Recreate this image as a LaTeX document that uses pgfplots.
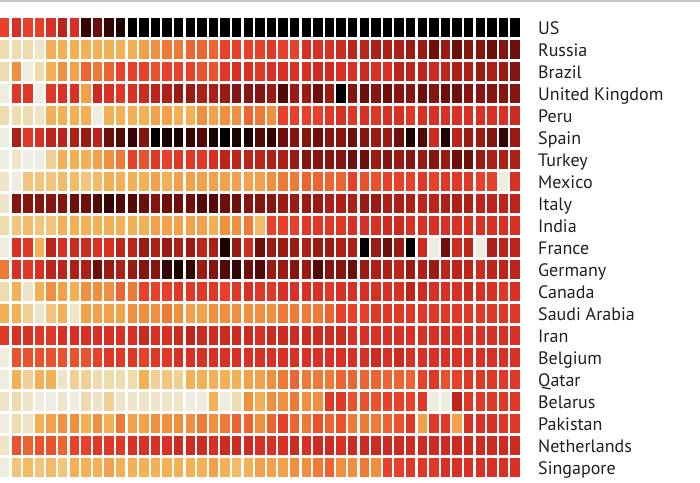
\documentclass[border=0pt]{standalone}
\usepackage{pgfplots}
\pgfplotsset{compat=1.18}
\usepackage{fontspec}
\setmainfont{PT Sans}
\pgfdeclareplotmark{cell}{%
  \pgfsetcornersarced{\pgfpoint{2pt}{2pt}}%
  \pgfpathrectanglecorners{\pgfpoint{-4.65pt}{-9.5pt}}{\pgfpoint{4.65pt}{9.5pt}}%
  \pgfusepathqfill}
\pgfplotsset{
  cellplot/.style={scatter, only marks, mark=cell,
    point meta=\thisrow{v},
    scatter/use mapped color={draw=none, fill=mapped color}},
}
\tikzset{lab/.style={anchor=base west, inner sep=0pt, text=black!88, font=\fontsize{18}{21}\selectfont, yshift=-6.5pt}}
\begin{document}
\begin{tikzpicture}
\begin{axis}[
  scale only axis, width=700pt, height=482pt,
  xmin=-0.4009, xmax=59.944, ymin=-1.25, ymax=20.659, y dir=reverse,
  hide axis,
  colormap={heat}{rgb255=(239,237,224) rgb255=(239,220,174) rgb255=(242,196,124) rgb255=(244,176,84)
    rgb255=(240,143,62) rgb255=(236,100,50) rgb255=(232,64,42) rgb255=(216,48,36) rgb255=(189,37,28)
    rgb255=(154,26,20) rgb255=(110,15,11) rgb255=(53,5,4) rgb255=(0,0,0)},
  point meta min=0, point meta max=12,
]
% 0 US
\addplot[cellplot] table[x expr=\coordindex, y expr=0, row sep=\\]{v\\6\\7\\6\\6\\7\\8\\7\\11\\10\\11\\11.5\\12\\12\\12\\12\\12\\12\\12\\12\\12\\12\\12\\12\\12\\12\\12\\12\\12\\12\\12\\12\\12\\12\\12\\12\\12\\12\\12\\12\\12\\12\\12\\12\\12\\12\\};
% 1 Russia
\addplot[cellplot] table[x expr=\coordindex, y expr=1, row sep=\\]{v\\1\\1\\1\\0.5\\3\\3\\3\\3\\3\\3\\3\\3\\3.5\\4\\4.5\\4.5\\5\\5\\5\\6\\6\\6\\6\\6.5\\6\\6\\7\\7\\7\\7.5\\8\\8\\8.5\\8.5\\8.5\\9\\9\\10\\9\\10\\9.5\\9.5\\10\\9.5\\10\\};
% 2 Brazil
\addplot[cellplot] table[x expr=\coordindex, y expr=2, row sep=\\]{v\\1\\4\\0\\1\\3\\4\\3.5\\5\\4.5\\5\\6\\6\\6\\5.5\\6\\6\\6\\5.5\\5.5\\6.5\\7\\7\\6.5\\7\\7\\7\\7\\7.5\\7.5\\7\\7\\7.5\\7\\7\\8\\8\\8\\7.5\\8\\8.5\\8.5\\9\\8.5\\9\\9.5\\};
% 3 UK
\addplot[cellplot] table[x expr=\coordindex, y expr=3, row sep=\\]{v\\0\\6.5\\6.5\\0\\6.5\\7\\7\\3.5\\7.5\\7\\6.5\\7\\7.5\\8\\8.5\\9\\9\\8.5\\8.5\\9\\9.5\\9.5\\9.5\\9\\10.5\\9\\9\\10\\9\\12\\9.5\\10\\9.5\\10\\9.5\\9.5\\10\\9.5\\10\\10\\9.5\\9.5\\9.5\\9.5\\9.5\\};
% 4 Peru
\addplot[cellplot] table[x expr=\coordindex, y expr=4, row sep=\\]{v\\1\\1\\1\\0.5\\3\\3\\3\\3\\0\\3\\3\\3\\3\\3.5\\3.5\\3\\3\\4\\3.5\\4\\4\\5\\4.5\\4\\6\\6\\6\\6\\6.5\\7\\6.5\\7\\6.5\\7\\7\\6.5\\7\\7\\7\\7\\7\\7\\7\\7\\7.5\\};
% 5 Spain
\addplot[cellplot] table[x expr=\coordindex, y expr=5, row sep=\\]{v\\0\\8.5\\6.5\\7\\8\\8\\8.5\\9\\8\\10\\10.5\\11\\9.5\\12\\11.5\\11.5\\11\\10.5\\11.5\\12\\11.5\\11.5\\10.5\\11\\10\\9.5\\9.5\\10\\9.5\\9.5\\10\\9.5\\9\\9\\10\\11.5\\10.5\\7.5\\11.5\\8\\9\\9\\9.5\\11\\9\\};
% 6 Turkey
\addplot[cellplot] table[x expr=\coordindex, y expr=6, row sep=\\]{v\\0\\0.5\\0\\0\\1.5\\3\\3\\3\\3.5\\4\\4.5\\6\\5.5\\6.5\\6\\6.5\\6.5\\6.5\\7\\8\\8\\8\\8\\8.5\\8.5\\9\\9.5\\9.5\\9.5\\9.5\\10\\10\\9\\9.5\\9\\9.5\\9\\9.5\\9\\10\\10\\9\\8.5\\8.5\\8.5\\};
% 7 Mexico
\addplot[cellplot] table[x expr=\coordindex, y expr=7, row sep=\\]{v\\0.5\\0\\2\\2\\2\\2.5\\2.5\\2\\2.5\\3\\3\\3\\3\\3.5\\3\\3.5\\3.5\\3.5\\3.5\\3.5\\3.5\\3.5\\3.5\\4\\4.5\\4.5\\5\\5\\5\\5\\6\\5.5\\5.5\\6\\6\\6\\6.5\\6\\6.5\\6.5\\6.5\\6\\6\\0\\7\\};
% 8 Italy
\addplot[cellplot] table[x expr=\coordindex, y expr=8, row sep=\\]{v\\0.5\\9.5\\9.5\\9.5\\9.5\\9.5\\10\\10\\10.5\\11\\10.5\\10.5\\10\\9.5\\10\\10\\10\\10.5\\10.5\\10\\10\\9.5\\9.5\\9.5\\9\\9\\9\\9\\8.5\\8.5\\8.5\\9\\9\\8.5\\8.5\\8.5\\8\\8\\8.5\\8.5\\8.5\\8\\8\\8\\8\\};
% 9 India
\addplot[cellplot] table[x expr=\coordindex, y expr=9, row sep=\\]{v\\1\\2\\2.5\\2\\2\\3\\3\\3\\3\\3\\3\\3\\3\\3.5\\3.5\\3.5\\3.5\\3.5\\3\\4\\4\\4.5\\2.5\\6\\6\\6\\6.5\\6.5\\6.5\\6.5\\7\\7\\7\\7.5\\7.5\\7\\7\\7\\7\\7\\7\\7\\7\\7\\7\\};
% 10 France
\addplot[cellplot] table[x expr=\coordindex, y expr=10, row sep=\\]{v\\0\\7\\6.5\\3\\8\\7\\7.5\\7.5\\7\\7\\8\\8\\9\\8.5\\9\\8.5\\9\\8\\8.5\\11.5\\9\\7.5\\10\\9\\9\\9\\8.5\\9\\9\\8.5\\8.5\\12\\9\\10\\9\\12\\7.5\\0\\10\\7.5\\8\\0\\8.5\\8\\8\\};
% 11 Germany
\addplot[cellplot] table[x expr=\coordindex, y expr=11, row sep=\\]{v\\4.5\\7\\6.5\\7\\8\\8\\8.5\\8.5\\10\\9\\8.5\\9\\9.5\\9.5\\11\\11.5\\11\\9\\9.5\\10.5\\11\\10\\10.5\\9\\9\\9.5\\9\\10.5\\9.5\\9.5\\10\\9\\8.5\\8.5\\8\\9\\8.5\\9\\8\\8\\8\\7.5\\8\\8\\8\\};
% 12 Canada
\addplot[cellplot] table[x expr=\coordindex, y expr=12, row sep=\\]{v\\1\\3\\0.5\\3\\4\\3.5\\3\\4\\4\\4\\5\\4.5\\6\\6\\6\\6.5\\6.5\\6.5\\6.5\\6\\6.5\\7\\6.5\\6.5\\7\\7\\7\\7\\6.5\\7\\7\\7\\7\\7\\7\\8\\7.5\\7\\7\\7\\7.5\\7\\7\\6.5\\7\\};
% 13 Saudi Arabia
\addplot[cellplot] table[x expr=\coordindex, y expr=13, row sep=\\]{v\\3\\3\\1.5\\0.5\\2\\3\\0.5\\3.5\\3.5\\3.5\\3.5\\4\\4\\4\\4.5\\4\\3.5\\3.5\\4\\4\\4\\4\\4\\4\\4.5\\4.5\\4.5\\4.5\\5\\6\\6\\6\\6.5\\6.5\\6.5\\6.5\\6.5\\6.5\\6.5\\6.5\\6.5\\6.5\\6.5\\6.5\\6.5\\};
% 14 Iran
\addplot[cellplot] table[x expr=\coordindex, y expr=14, row sep=\\]{v\\6.5\\7\\7\\6.5\\6.5\\7\\7\\7\\7\\7\\7\\7\\7.5\\7\\7\\7.5\\8\\7.5\\7.5\\7.5\\7.5\\7.5\\7\\7.5\\7.5\\7.5\\7.5\\7.5\\7.5\\7.5\\7\\7\\7\\7\\7\\7\\7\\7\\7\\7\\7\\7\\7\\7\\7\\};
% 15 Belgium
\addplot[cellplot] table[x expr=\coordindex, y expr=15, row sep=\\]{v\\0\\5.5\\5.5\\5.5\\5.5\\5.5\\5.5\\5.5\\6\\6.5\\6.5\\6.5\\6\\6.5\\6.5\\7\\7\\7\\7\\7\\7\\7\\7\\7\\7\\7\\7\\7\\7\\7\\7\\7\\7.5\\7\\7.5\\7\\7\\7\\7\\7\\7\\7\\7\\7\\7\\};
% 16 Qatar
\addplot[cellplot] table[x expr=\coordindex, y expr=16, row sep=\\]{v\\0\\3\\1.5\\3\\3\\0.5\\1.5\\1.5\\1\\1\\1\\1\\3\\1.5\\2\\1.5\\3\\3\\3\\3\\3\\3.5\\3.5\\4\\4.5\\5\\4.5\\4.5\\4.5\\5\\5\\5\\5\\5\\5\\5\\6\\6.5\\5.5\\6\\6.5\\6.5\\6.5\\6.5\\6.5\\};
% 17 Belarus
\addplot[cellplot] table[x expr=\coordindex, y expr=17, row sep=\\]{v\\0.5\\1\\0.5\\0\\0\\0.5\\0\\1\\0.5\\1.5\\0.5\\0.5\\0.5\\0.5\\0.5\\0.5\\0\\0\\3\\0\\1\\4\\3\\4\\4\\4.5\\4\\4\\6.5\\6.5\\5.5\\5.5\\5.5\\6\\6\\6\\6.5\\0\\0\\8\\6.5\\6.5\\6.5\\6.5\\6.5\\};
% 18 Pakistan
\addplot[cellplot] table[x expr=\coordindex, y expr=18, row sep=\\]{v\\0\\1\\0.5\\3\\3.5\\4\\4\\3\\4\\3\\4.5\\3.5\\3.5\\4\\4\\4\\4\\4.5\\4\\4.5\\5\\5\\4\\5\\6\\5\\4.5\\5.5\\5\\5.5\\4.5\\4.5\\4.5\\5\\5.5\\6.5\\3.5\\6.5\\6.5\\3.5\\7\\7\\7\\6.5\\6.5\\};
% 19 Netherlands
\addplot[cellplot] table[x expr=\coordindex, y expr=19, row sep=\\]{v\\0.5\\5.5\\5\\5.5\\5.5\\5\\6\\6\\6.5\\6.5\\6.5\\7\\7\\7\\7\\7.5\\7.5\\7.5\\7\\7.5\\7.5\\7.5\\7\\7\\7\\7.5\\7\\7.5\\7.5\\7\\7.5\\7.5\\7.5\\7.5\\7.5\\7.5\\7.5\\7.5\\7.5\\7.5\\7.5\\7.5\\7.5\\7.5\\7.5\\};
% 20 Singapore
\addplot[cellplot] table[x expr=\coordindex, y expr=20, row sep=\\]{v\\0\\2\\2.5\\2\\2.5\\2\\3\\3\\3\\3.5\\3\\3\\3\\3\\3\\3\\3\\3\\3.5\\3\\2.5\\3\\3.5\\3.5\\3.5\\4\\4\\4.5\\5\\4\\4\\4.5\\4\\6\\6\\6.5\\6.5\\6.5\\7\\7\\7\\7\\7\\7\\7\\};
% 21 (partly visible)
\addplot[cellplot] table[x expr=\coordindex, y expr=21, row sep=\\]{v\\5\\4.5\\5\\5\\5.5\\5.5\\5\\6\\6\\6\\6\\6\\6.5\\6.5\\6.5\\6.5\\6.5\\6.5\\6.5\\6.5\\6.5\\6.5\\6.5\\6.5\\6.5\\6.5\\6.5\\6.5\\6.5\\6.5\\7\\7\\7\\7\\7\\7\\7\\7\\7\\7\\7\\7\\7\\7\\7\\};
\draw[color=black!22, line width=1.6pt] (axis cs:-0.4009,-1.218) -- (axis cs:59.944,-1.218);
\node[lab] at (axis cs:45.98,0) {US};
\node[lab] at (axis cs:45.98,1) {Russia};
\node[lab] at (axis cs:45.98,2) {Brazil};
\node[lab] at (axis cs:45.98,3) {United Kingdom};
\node[lab] at (axis cs:45.98,4) {Peru};
\node[lab] at (axis cs:45.98,5) {Spain};
\node[lab] at (axis cs:45.98,6) {Turkey};
\node[lab] at (axis cs:45.98,7) {Mexico};
\node[lab] at (axis cs:45.98,8) {Italy};
\node[lab] at (axis cs:45.98,9) {India};
\node[lab] at (axis cs:45.98,10) {France};
\node[lab] at (axis cs:45.98,11) {Germany};
\node[lab] at (axis cs:45.98,12) {Canada};
\node[lab] at (axis cs:45.98,13) {Saudi Arabia};
\node[lab] at (axis cs:45.98,14) {Iran};
\node[lab] at (axis cs:45.98,15) {Belgium};
\node[lab] at (axis cs:45.98,16) {Qatar};
\node[lab] at (axis cs:45.98,17) {Belarus};
\node[lab] at (axis cs:45.98,18) {Pakistan};
\node[lab] at (axis cs:45.98,19) {Netherlands};
\node[lab] at (axis cs:45.98,20) {Singapore};
\end{axis}
\pgfresetboundingbox
\useasboundingbox (current axis.south west) rectangle (current axis.north east);
\end{tikzpicture}
\end{document}
